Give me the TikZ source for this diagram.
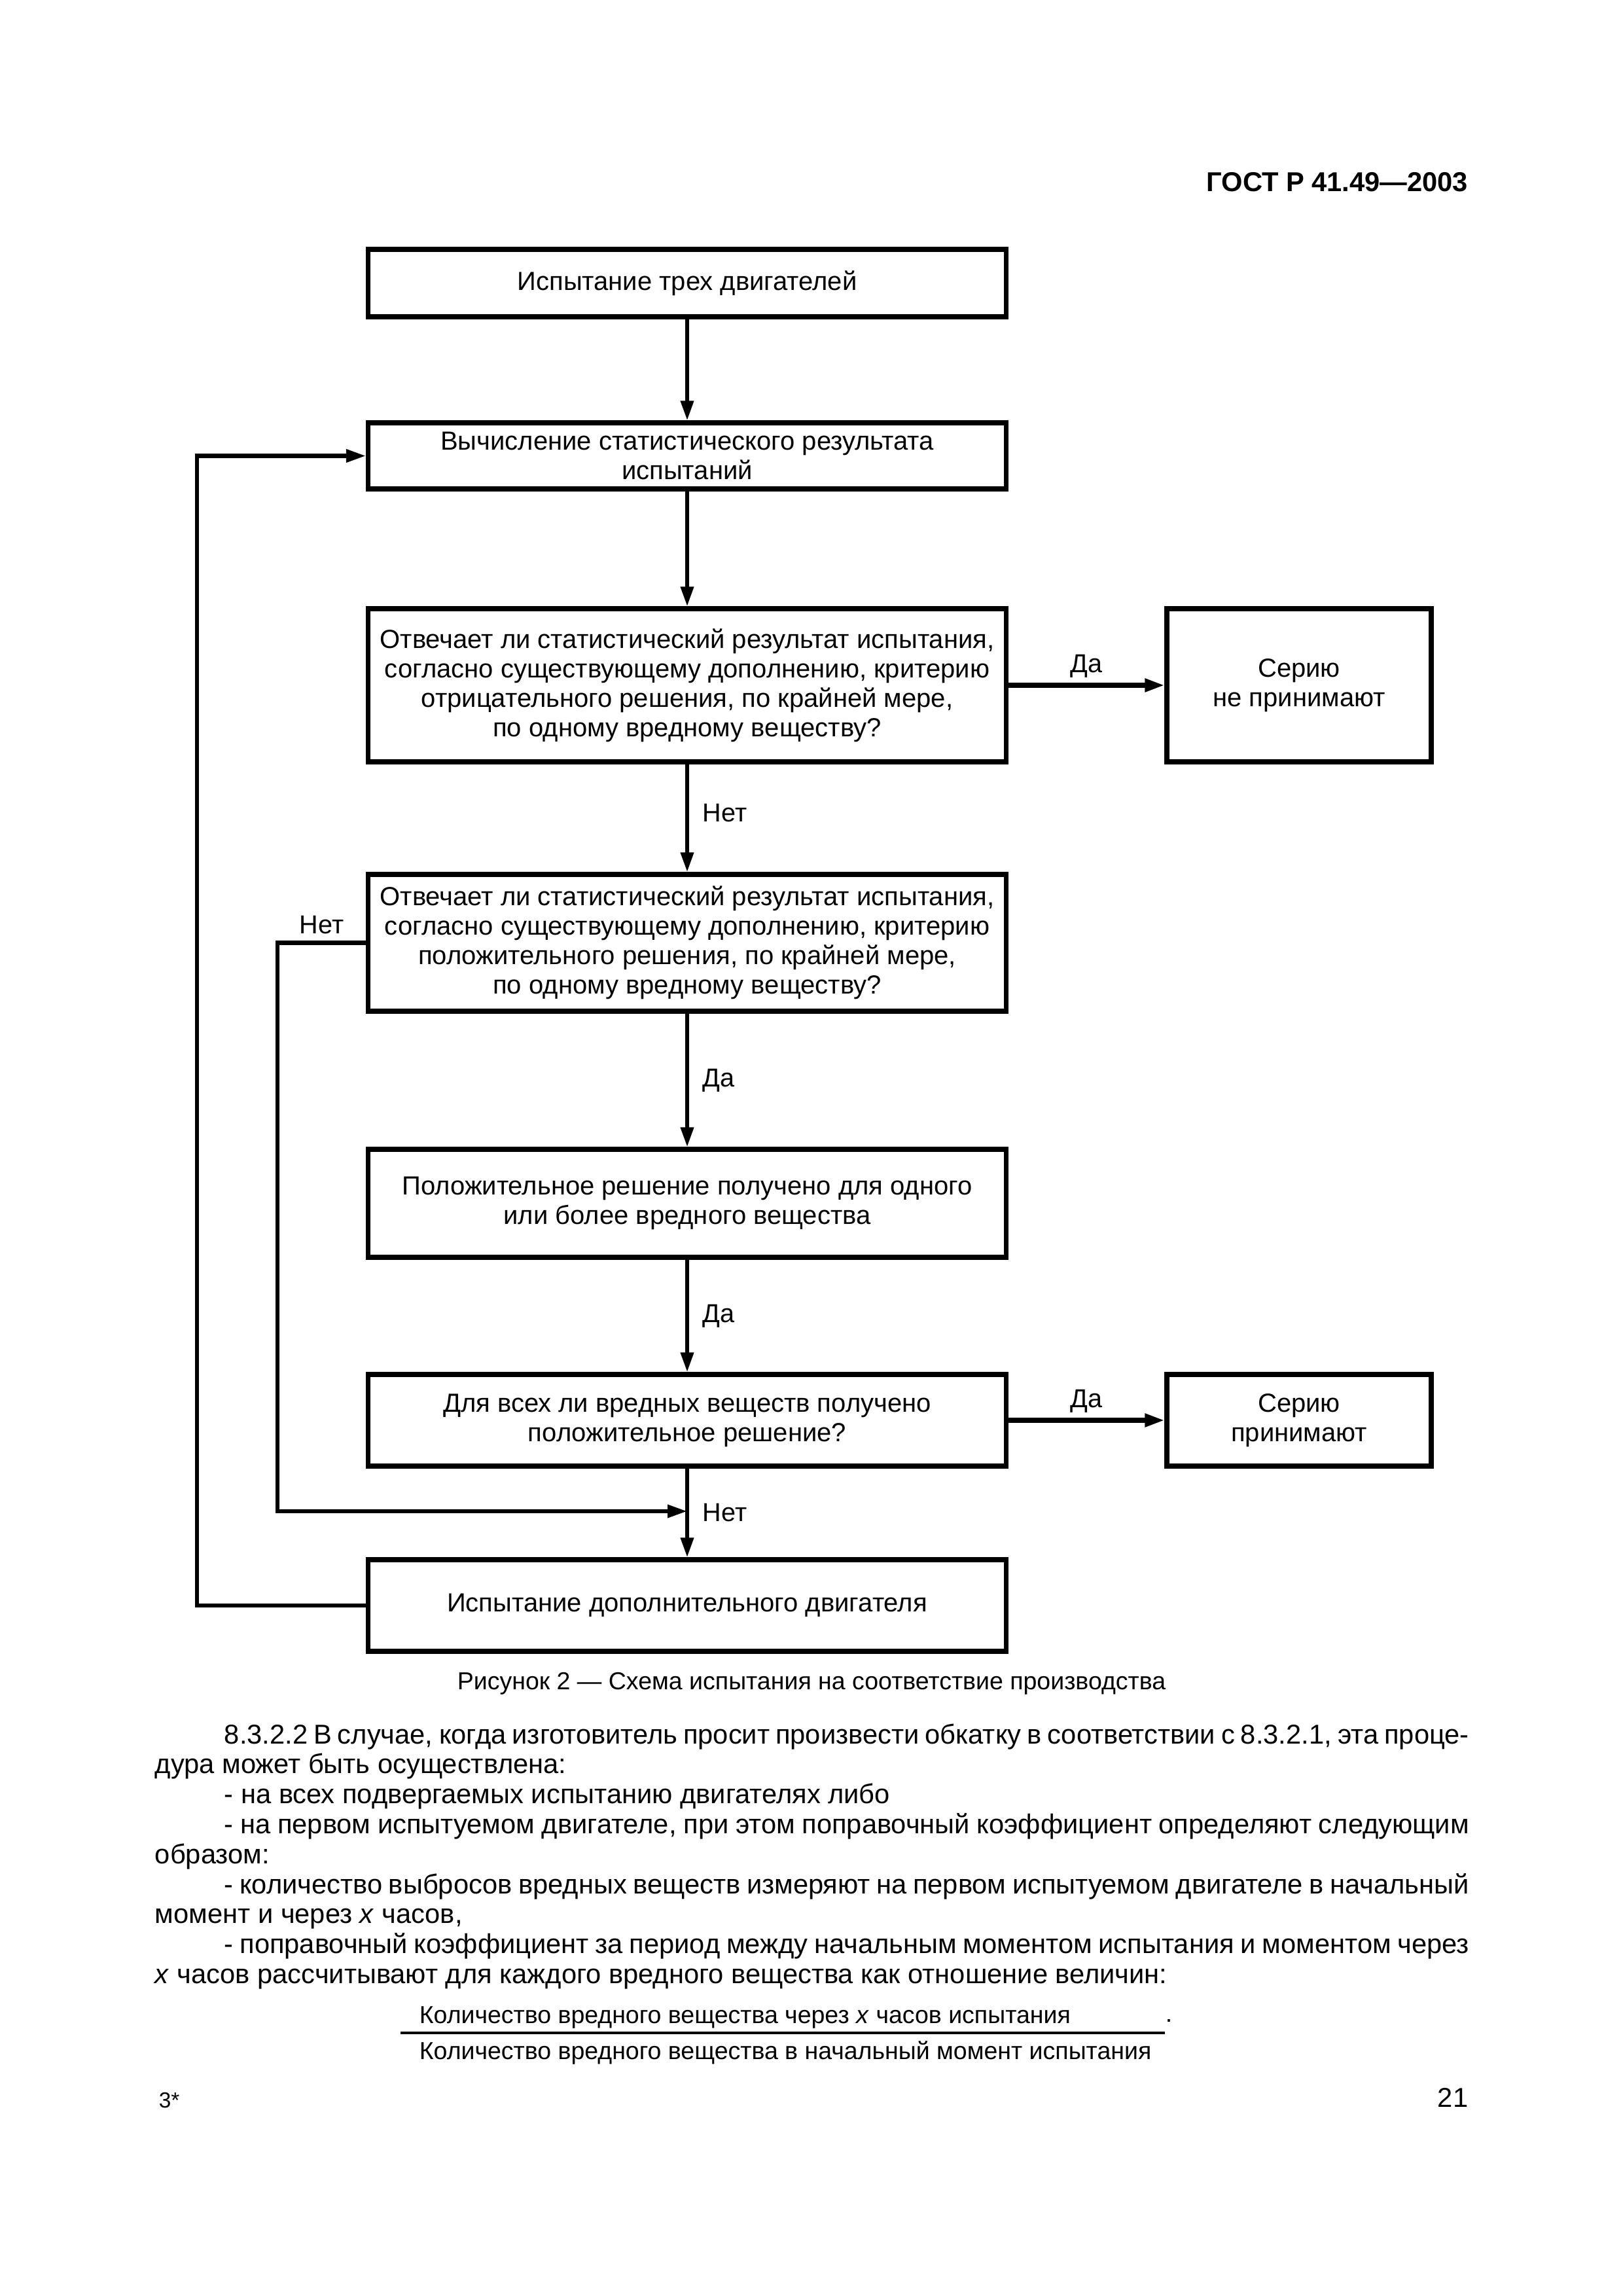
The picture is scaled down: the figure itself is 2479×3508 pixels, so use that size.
\documentclass[tikz,border=0pt]{standalone}
\usepackage{fontspec}
\setmainfont{Liberation Sans}
\usetikzlibrary{arrows.meta}
\tikzset{
  box/.style={draw, line width=1.7pt, minimum width=234pt, align=center, inner sep=0pt,
    font=\fontsize{9.6}{10.8}\selectfont},
  sbox/.style={box, minimum width=96.96pt},
  conn/.style={line width=1.45pt, -{Triangle[length=7.2pt,width=4.6pt]}},
  sideconn/.style={conn, line width=1.7pt},
  lbl/.style={font=\fontsize{9.5}{11}\selectfont, inner sep=0pt},
  bodyline/.style={anchor=base west, inner sep=0pt, font=\fontsize{10}{11}\selectfont},
  smalltext/.style={inner sep=0pt, font=\fontsize{9}{11}\selectfont},
}
\begin{document}
\begin{tikzpicture}[x=0.24pt, y=-0.24pt]
\path[use as bounding box, fill=white] (0,0) rectangle (2479,3508);

% header
\node[anchor=base east, inner sep=0pt, font=\fontsize{10}{12}\selectfont\bfseries] (hdr) at (2244,293) {ГОСТ Р 41.49—2003};

% boxes
\node[box, minimum height=24.72pt] (b1) at (1050,432.5) {Испытание трех двигателей};
\node[box, minimum height=24.24pt] (b2) at (1050,696.5) {Вычисление статистического результата\\испытаний};
\node[box, minimum height=56.16pt] (b3) at (1050,1047) {Отвечает ли статистический результат испытания,\\согласно существующему дополнению, критерию\\отрицательного решения, по крайней мере,\\по одному вредному веществу?};
\node[sbox, minimum height=56.16pt] (sA) at (1985,1047) {Серию\\не принимают};
\node[box, minimum height=50.16pt] (b4) at (1050,1440.5) {Отвечает ли статистический результат испытания,\\согласно существующему дополнению, критерию\\положительного решения, по крайней мере,\\по одному вредному веществу?};
\node[box, minimum height=39.6pt] (b5) at (1050,1838.5) {Положительное решение получено для одного\\или более вредного вещества};
\node[box, minimum height=33.6pt] (b6) at (1050,2170) {Для всех ли вредных веществ получено\\положительное решение?};
\node[sbox, minimum height=33.6pt] (sB) at (1985,2170) {Серию\\принимают};
\node[box, minimum height=33.6pt] (b7) at (1050,2453) {Испытание дополнительного двигателя};

\coordinate (jn) at (1050,2309);

% connectors
\draw[conn] (b1) -- (b2);
\draw[conn] (b2) -- (b3);
\draw[sideconn] (b3.east) -- node[lbl, midway, yshift=7pt] (l1) {Да} (sA.west);
\draw[conn] (b3) -- node[lbl, midway, right=5pt, yshift=2pt] (l2) {Нет} (b4);
\draw[conn] (b4) -- node[lbl, midway, right=5pt] (l3) {Да} (b5);
\draw[conn] (b5) -- node[lbl, midway, right=5pt] (l4) {Да} (b6);
\draw[sideconn] (b6.east) -- node[lbl, midway, yshift=7pt] (l5) {Да} (sB.west);
\draw[conn] (b6) -- node[lbl, midway, right=5pt] (l6) {Нет} (b7);
\draw[conn] (b4.west) -- node[lbl, midway, above=2.5pt] (l7) {Нет} ++(-135,0) |- (jn);
\draw[conn] (b7.west) -- ++(-258,0) |- (b2.west);

% caption
\node[anchor=base, smalltext] (cap) at (1240,2581) {Рисунок 2 — Схема испытания на соответствие производства};

% body text
\node[bodyline] (p1) at (342,2664) {\makebox[456.48pt][s]{8.3.2.2 В случае, когда изготовитель просит произвести обкатку в соответствии с 8.3.2.1, эта проце-}};
\node[bodyline] (p2) at (236,2709.8) {дура может быть осуществлена:};
\node[bodyline] (p3) at (342,2755.6) {- на всех подвергаемых испытанию двигателях либо};
\node[bodyline] (p4) at (342,2801.4) {\makebox[456.48pt][s]{- на первом испытуемом двигателе, при этом поправочный коэффициент определяют следующим}};
\node[bodyline] (p5) at (236,2847.2) {образом:};
\node[bodyline] (p6) at (342,2893) {\makebox[456.48pt][s]{- количество выбросов вредных веществ измеряют на первом испытуемом двигателе в начальный}};
\node[bodyline] (p7) at (236,2938.8) {момент и через \textit{x} часов,};
\node[bodyline] (p8) at (342,2984.6) {\makebox[456.48pt][s]{- поправочный коэффициент за период между начальным моментом испытания и моментом через}};
\node[bodyline] (p9) at (236,3030.4) {\textit{x} часов рассчитывают для каждого вредного вещества как отношение величин:};

% fraction
\node[anchor=base west, smalltext] (fnum) at (640,3091) {Количество вредного вещества через \textit{x} часов испытания};
\node[anchor=base west, smalltext] (fdot) at (1780,3089) {.};
\draw[line width=1pt] (612,3106) -- (1780,3106);
\node[anchor=base west, smalltext] (fden) at (640,3146) {Количество вредного вещества в начальный момент испытания};

% footer
\node[anchor=base west, inner sep=0pt, font=\fontsize{8}{10}\selectfont] (f1) at (242,3220) {3*};
\node[anchor=base east, inner sep=0pt, font=\fontsize{10}{12}\selectfont] (f2) at (2244,3219) {21};
\end{tikzpicture}
\end{document}
